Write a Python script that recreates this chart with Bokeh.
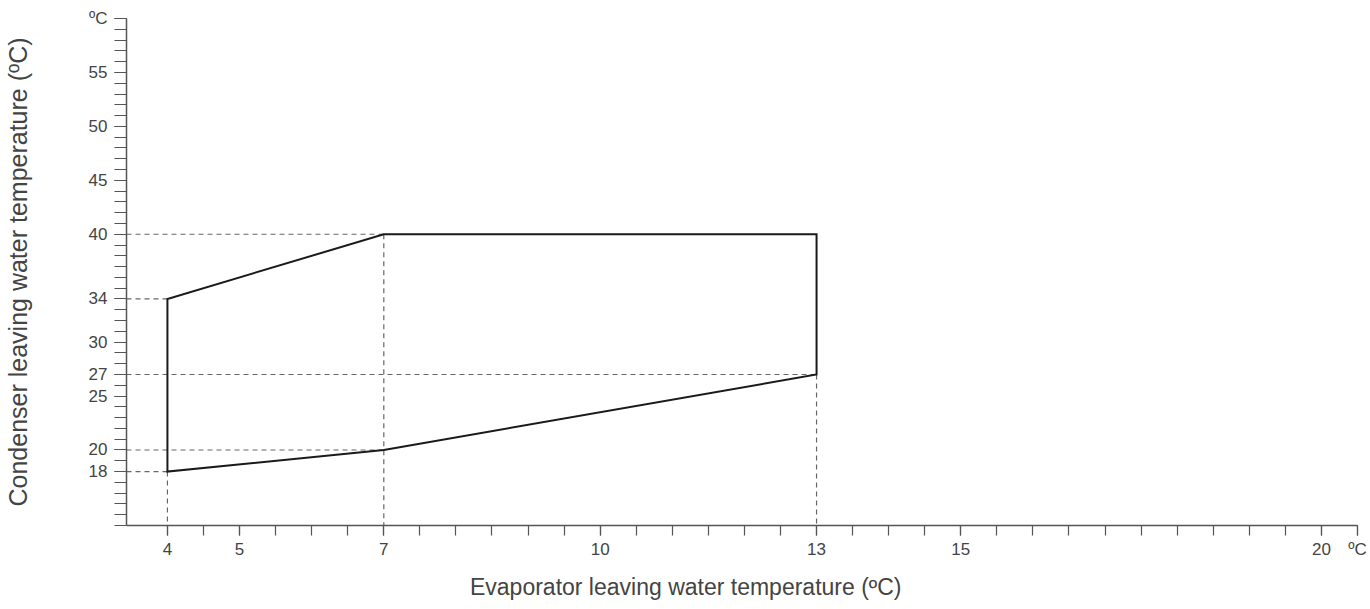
from bokeh.plotting import figure
from bokeh.models import LinearAxis, FixedTicker, Range1d, Title
from bokeh.embed import file_html
from bokeh.resources import INLINE

# ---- data ----
evap = [4, 4, 7, 13, 13, 7]          # polygon x (evaporator °C)
cond = [18, 34, 40, 40, 27, 20]      # polygon y (condenser °C)

guide_h_y = [40, 34, 27, 20, 18]     # horizontal guide levels
guide_h_x = [7, 4, 13, 7, 4]         # where they end
guide_v_x = [4, 7, 13]               # vertical guide positions
guide_v_y = [18, 40, 27]             # where they start

x_major = [4, 5, 7, 10, 13, 15, 20, 20.5]
x_major_labels = ["4", "5", "7", "10", "13", "15", "20", "ºC"]
y_major = [18, 20, 25, 27, 30, 34, 40, 45, 50, 55, 60]
y_major_labels = ["18", "20", "25", "27", "30", "34", "40", "45", "50", "55", "ºC"]

x_title = "Evaporator leaving water temperature (ºC)"
y_title = "Condenser leaving water temperature (ºC)"

x_start, x_end = 3.4325, 20.5
y_start, y_end = 13, 60

x_minor = [4 + 0.5 * i for i in range(34)]
y_minor = list(range(13, 61))

FONT = "Liberation Sans"
AXIS_COL = "#555555"
TXT_COL = "#444444"

W, H = 1370, 609
BL, BR, BT, BB = 124, 13, 18, 83

p = figure(width=W, height=H, output_backend="svg", toolbar_location=None,
           x_range=Range1d(x_start, x_end), y_range=Range1d(y_start, y_end),
           x_axis_location=None, y_axis_location=None,
           min_border_left=BL, min_border_right=BR, min_border_top=BT, min_border_bottom=BB)
p.outline_line_color = None
p.grid.visible = False
p.background_fill_color = "white"
p.border_fill_color = "white"

def style_axis(ax, major, labels, minor, tick_len, lab_standoff):
    ax.ticker = FixedTicker(ticks=major, minor_ticks=minor)
    ax.major_label_overrides = {m: l for m, l in zip(major, labels)}
    ax.axis_line_color = AXIS_COL
    ax.axis_line_width = 1.5
    ax.major_tick_line_color = AXIS_COL
    ax.minor_tick_line_color = AXIS_COL
    ax.major_tick_line_width = 1.2
    ax.minor_tick_line_width = 1.2
    ax.major_tick_in = 0
    ax.minor_tick_in = 0
    ax.major_tick_out = tick_len
    ax.minor_tick_out = tick_len
    ax.major_label_text_font = FONT
    ax.major_label_text_font_size = "17px"
    ax.major_label_text_color = TXT_COL
    ax.major_label_standoff = lab_standoff

xa = LinearAxis()
style_axis(xa, x_major, x_major_labels, x_minor, 10, 4)
p.add_layout(xa, "below")

ya = LinearAxis()
style_axis(ya, y_major, y_major_labels, y_minor, 12, 7)
ya.axis_label = y_title
ya.axis_label_text_font = FONT
ya.axis_label_text_font_size = "25px"
ya.axis_label_text_font_style = "normal"
ya.axis_label_text_color = TXT_COL
ya.axis_label_standoff = 54
p.add_layout(ya, "left")

# x-axis title: right-aligned with an offset so that it sits centred on the page
xt = Title(text=x_title, align="right", offset=456, standoff=20,
           text_font=FONT, text_font_size="23px", text_font_style="normal",
           text_color=TXT_COL)
p.add_layout(xt, "below")

# dashed guides
p.segment(x0=[x_start] * len(guide_h_y), y0=guide_h_y, x1=guide_h_x, y1=guide_h_y,
          line_color="#666666", line_width=1.2, line_dash="5 4")
p.segment(x0=guide_v_x, y0=guide_v_y, x1=guide_v_x, y1=[y_start] * len(guide_v_x),
          line_color="#666666", line_width=1.2, line_dash="5 4")

# operating envelope
p.patch(evap, cond, fill_color=None, line_color="#1a1a1a", line_width=2, line_join="miter")

open("out.html", "w").write(file_html(p, INLINE))
